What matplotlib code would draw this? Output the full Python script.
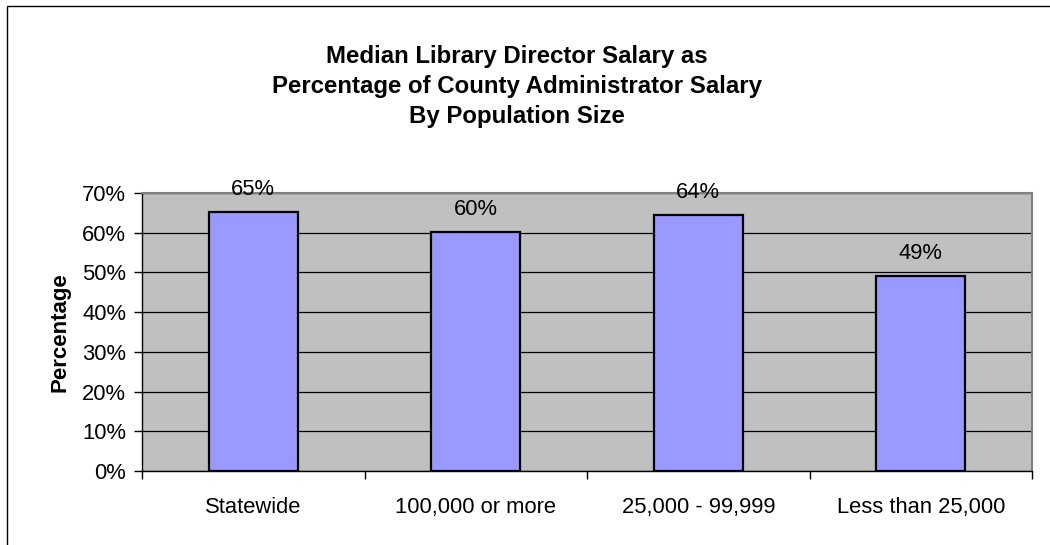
import matplotlib
matplotlib.use("Agg")
import matplotlib.pyplot as plt
from matplotlib.patches import Rectangle
from matplotlib.ticker import FixedLocator, NullFormatter

categories = ["Statewide", "100,000 or more", "25,000 - 99,999", "Less than 25,000"]
values = [65.3, 60.1, 64.4, 49.0]
value_labels = ["65%", "60%", "64%", "49%"]
y_ticks = [0, 10, 20, 30, 40, 50, 60, 70]
y_tick_labels = ["0%", "10%", "20%", "30%", "40%", "50%", "60%", "70%"]
title_lines = ["Median Library Director Salary as",
               "Percentage of County Administrator Salary",
               "By Population Size"]
y_label = "Percentage"

plt.rcParams['font.family'] = ['Liberation Sans', 'DejaVu Sans']

W, H = 1050, 545
fig = plt.figure(figsize=(W / 100, H / 100), dpi=100)
fig.patch.set_facecolor("white")

# outer chart border
fig.patches.append(Rectangle((7 / W, -0.1), 1.2, 1 - 6 / H + 0.1,
                             transform=fig.transFigure, fill=False,
                             edgecolor="black", linewidth=1.0))

ax = fig.add_axes([142 / W, 1 - 471 / H, (1032 - 142) / W, (471 - 193) / H])
ax.set_facecolor("#C0C0C0")

x = list(range(len(categories)))
ax.bar(x, values, width=0.4, color="#9999FF", edgecolor="black",
       linewidth=1.6, zorder=3)

for xi, v, lab in zip(x, values, value_labels):
    ax.annotate(lab, (xi, v), xytext=(0, 12.3), textcoords="offset points",
                ha="center", va="baseline", fontsize=15.8, color="black",
                zorder=4)

ax.set_xlim(-0.5, len(categories) - 0.5)
ax.set_ylim(0, 70)
ax.set_yticks(y_ticks)
ax.set_yticklabels(y_tick_labels, fontsize=15.8)
ax.yaxis.grid(True, color="black", linewidth=0.9, zorder=1)
ax.set_axisbelow(True)

# x: category labels at centers (no ticks), tick marks at boundaries
ax.set_xticks(x)
ax.set_xticklabels(categories, fontsize=15.8)
ax.tick_params(axis="x", which="major", length=0, pad=19)
ax.xaxis.set_minor_locator(FixedLocator([-0.5, 0.5, 1.5, 2.5, 3.5]))
ax.xaxis.set_minor_formatter(NullFormatter())
ax.tick_params(axis="x", which="minor", length=6, width=1.0, direction="out")
ax.tick_params(axis="y", length=6, width=1.0, direction="out", pad=5.5)

for s in ["left", "bottom"]:
    ax.spines[s].set_color("black")
    ax.spines[s].set_linewidth(1.0)
for s in ["top", "right"]:
    ax.spines[s].set_color("#808080")
    ax.spines[s].set_linewidth(1.5)

ax.set_ylabel(y_label, fontsize=16, fontweight="bold", labelpad=8)

baselines = [63.3, 93.0, 122.5]
for line, yb in zip(title_lines, baselines):
    fig.text(517 / W, 1 - yb / H, line, ha="center", va="baseline",
             fontsize=17.3, fontweight="bold")

fig.savefig("out.png", dpi=100)
